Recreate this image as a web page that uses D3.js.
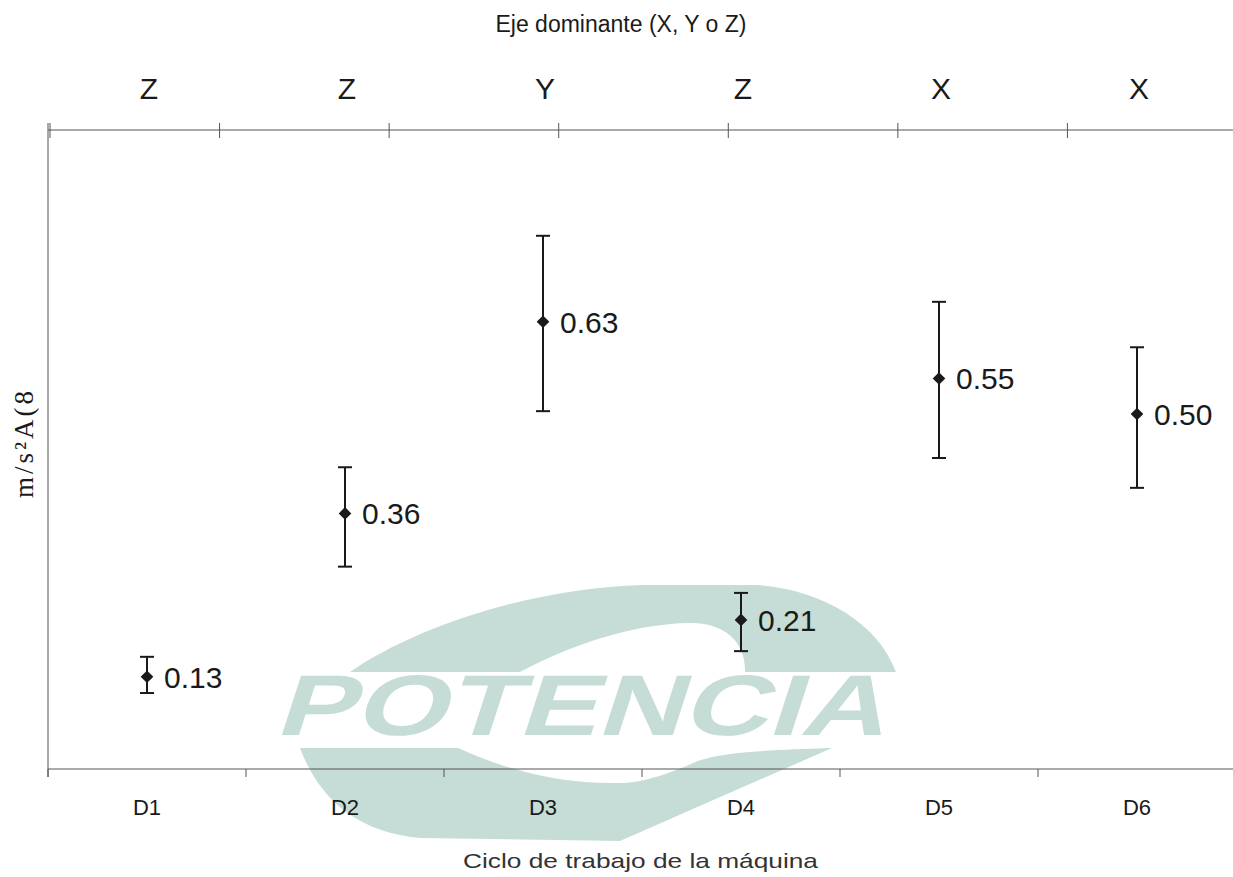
<!DOCTYPE html>
<html>
<head>
<meta charset="utf-8">
<script src="https://cdn.jsdelivr.net/npm/d3@7"></script>
<style>
  html, body { margin: 0; padding: 0; background: #fff; }
  svg { display: block; font-family: "Liberation Sans", Arial, sans-serif; }
</style>
</head>
<body>
<svg id="chart"></svg>
<script>
// Vibración por ciclo de trabajo: media con barra de error, eje dominante arriba.

const cycles   = ["D1", "D2", "D3", "D4", "D5", "D6"];
const domAxis  = ["Z", "Z", "Y", "Z", "X", "X"];
const means    = [0.13, 0.36, 0.63, 0.21, 0.55, 0.50];
const lows     = [0.107, 0.285, 0.504, 0.166, 0.438, 0.396];
const highs    = [0.158, 0.425, 0.751, 0.248, 0.658, 0.594];
const yDomain  = [0, 0.9];

(function () {
  const W = 1233, H = 877;
  const M = { top: 130, right: 0, bottom: 108, left: 48 };
  const INK = "#1a1a1a";
  const AXIS = "#555";
  const WM = "#c6dcd6";   // watermark teal-grey

  const svg = d3.select("#chart").attr("width", W).attr("height", H);

  // ---- watermark (background decoration, drawn freehand) ----
  const wm = svg.append("g").attr("class", "watermark").attr("fill", WM);
  // upper half of the "C"
  wm.append("path").attr("d",
    "M350,672 C420,624 536,588 643,585 L757,585 C820,589 878,622 896,672 " +
    "L745,672 C746,640 722,622 689,623 C640,624 580,640 520,672 Z");
  // lower half of the "C"
  wm.append("path").attr("d",
    "M300,748 C318,796 354,832 420,838 L620,841 L832,748 " +
    "C770,750 722,752 698,761 C664,776 640,783 620,783 C572,784 520,776 458,748 Z");
  wm.append("text")
    .attr("transform", "translate(274,735) skewX(-18)")
    .attr("x", 0).attr("y", 0)
    .attr("font-size", 86)
    .attr("font-weight", 700)
    .attr("textLength", 610)
    .attr("lengthAdjust", "spacingAndGlyphs")
    .text("POTENCIA");

  // ---- scales ----
  const x = d3.scaleBand().domain(cycles).range([48, 1236]).padding(0);
  const xEdge = d3.scaleLinear().domain([0, cycles.length]).range([48, 1236]);
  const topEdge = d3.scaleLinear().domain([0, 7]).range([50, 1237]);
  const y = d3.scaleLinear().domain(yDomain).range([H - M.bottom, M.top]);
  const y0 = y(0);

  // ---- axes ----
  const ax = svg.append("g").attr("stroke", AXIS).attr("stroke-width", 1);
  // top axis
  ax.append("line").attr("x1", 48).attr("x2", W).attr("y1", M.top).attr("y2", M.top);
  ax.selectAll("line.ttick").data(d3.range(0, 7)).enter()
    .append("line").attr("class", "ttick")
    .attr("x1", d => topEdge(d)).attr("x2", d => topEdge(d))
    .attr("y1", M.top - 7).attr("y2", M.top + 8);
  // bottom axis
  ax.append("line").attr("x1", 48).attr("x2", W).attr("y1", y0).attr("y2", y0);
  ax.selectAll("line.btick").data(d3.range(0, cycles.length)).enter()
    .append("line").attr("class", "btick")
    .attr("x1", d => xEdge(d)).attr("x2", d => xEdge(d))
    .attr("y1", y0).attr("y2", y0 + 8);
  // left axis
  ax.append("line").attr("x1", 48).attr("x2", 48).attr("y1", M.top - 7).attr("y2", y0 + 8);

  // ---- texts ----
  svg.append("text")
    .attr("x", 621).attr("y", 32)
    .attr("text-anchor", "middle")
    .attr("font-size", 23)
    .attr("fill", INK)
    .text("Eje dominante (X, Y o Z)");

  svg.selectAll("text.dom").data(domAxis).enter()
    .append("text").attr("class", "dom")
    .attr("x", (d, i) => x(cycles[i]) + x.bandwidth() / 2 + 2)
    .attr("y", 99)
    .attr("text-anchor", "middle")
    .attr("font-size", 30)
    .attr("fill", INK)
    .text(d => d);

  svg.selectAll("text.cyc").data(cycles).enter()
    .append("text").attr("class", "cyc")
    .attr("x", d => x(d) + x.bandwidth() / 2)
    .attr("y", 815)
    .attr("text-anchor", "middle")
    .attr("font-size", 22)
    .attr("fill", INK)
    .text(d => d);

  svg.append("text")
    .attr("x", 463).attr("y", 868)
    .attr("font-size", 21)
    .attr("textLength", 355)
    .attr("lengthAdjust", "spacingAndGlyphs")
    .attr("fill", "#333")
    .text("Ciclo de trabajo de la máquina");

  svg.append("text")
    .attr("transform", "translate(33,443) rotate(-90)")
    .attr("text-anchor", "middle")
    .attr("font-family", "'Liberation Serif', 'DejaVu Serif', serif")
    .attr("font-size", 27)
    .attr("letter-spacing", 3)
    .attr("fill", INK)
    .text("m/s²A(8");

  // ---- error bars + points ----
  const pts = svg.append("g");
  cycles.forEach((c, i) => {
    const cx = x(c) + x.bandwidth() / 2;
    const g = pts.append("g").attr("stroke", INK).attr("stroke-width", 2);
    g.append("line").attr("x1", cx).attr("x2", cx).attr("y1", y(highs[i])).attr("y2", y(lows[i]));
    g.append("line").attr("x1", cx - 7).attr("x2", cx + 7).attr("y1", y(highs[i])).attr("y2", y(highs[i]));
    g.append("line").attr("x1", cx - 7).attr("x2", cx + 7).attr("y1", y(lows[i])).attr("y2", y(lows[i]));

    pts.append("path")
      .attr("d", d3.symbol(d3.symbolSquare, 80)())
      .attr("transform", `translate(${cx},${y(means[i])}) rotate(45)`)
      .attr("fill", INK);

    pts.append("text")
      .attr("x", cx + 17).attr("y", y(means[i]))
      .attr("dy", "0.36em")
      .attr("font-size", 30)
      .attr("fill", INK)
      .text(means[i].toFixed(2));
  });
})();
</script>
</body>
</html>
